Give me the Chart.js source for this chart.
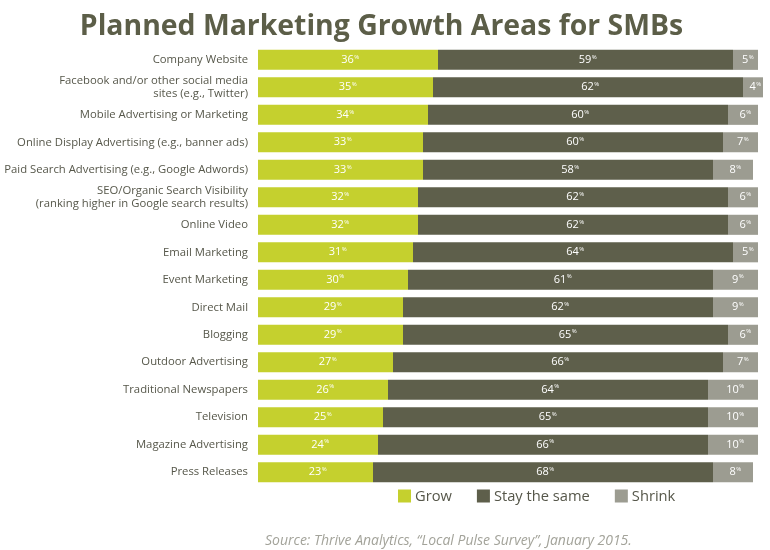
<!DOCTYPE html>
<html>
<head>
<meta charset="utf-8">
<script src="https://cdn.jsdelivr.net/npm/chart.js@4"></script>
<style>
  html, body { margin: 0; padding: 0; background: #fff; }
  #wrap { width: 770px; height: 550px; position: relative; }
</style>
</head>
<body>
<div id="wrap"><canvas id="chart"></canvas></div>
<script>
const categories = [
  'Company Website',
  ['Facebook and/or other social media', 'sites (e.g., Twitter)'],
  'Mobile Advertising or Marketing',
  'Online Display Advertising (e.g., banner ads)',
  'Paid Search Advertising (e.g., Google Adwords)',
  ['SEO/Organic Search Visibility', '(ranking higher in Google search results)'],
  'Online Video',
  'Email Marketing',
  'Event Marketing',
  'Direct Mail',
  'Blogging',
  'Outdoor Advertising',
  'Traditional Newspapers',
  'Television',
  'Magazine Advertising',
  'Press Releases'
];

const grow   = [36, 35, 34, 33, 33, 32, 32, 31, 30, 29, 29, 27, 26, 25, 24, 23];
const same   = [59, 62, 60, 60, 58, 62, 62, 64, 61, 62, 65, 66, 64, 65, 66, 68];
const shrink = [5, 4, 6, 7, 8, 6, 6, 5, 9, 9, 6, 7, 10, 10, 10, 8];

const seriesNames = ['Grow', 'Stay the same', 'Shrink'];
const sourceNote = 'Source: Thrive Analytics, \u201cLocal Pulse Survey\u201d, January 2015.';

const textColor = '#56574a';

// white value labels with a small raised % sign
const barLabels = {
  id: 'barLabels',
  afterDatasetsDraw(chart) {
    const ctx = chart.ctx;
    ctx.save();
    ctx.fillStyle = '#ffffff';
    ctx.textBaseline = 'middle';
    chart.data.datasets.forEach((ds, i) => {
      const meta = chart.getDatasetMeta(i);
      meta.data.forEach((bar, j) => {
        const num = String(ds.data[j]);
        ctx.font = '11px "Open Sans"';
        const w1 = ctx.measureText(num).width;
        ctx.font = '6px "Open Sans"';
        const w2 = ctx.measureText('%').width;
        const cx = (bar.x + bar.base) / 2;
        const x0 = cx - (w1 + w2) / 2 + 2;
        ctx.textAlign = 'left';
        ctx.font = '11px "Open Sans"';
        ctx.fillText(num, x0, bar.y);
        ctx.font = '6px "Open Sans"';
        ctx.fillText('%', x0 + w1 + 0.5, bar.y - 3);
      });
    });
    ctx.restore();
  }
};

// legend row under the bars, plus the source line
const bottomTexts = {
  id: 'bottomTexts',
  afterDraw(chart) {
    const ctx = chart.ctx;
    const y = chart.chartArea.bottom + 10;
    ctx.save();
    ctx.font = '14.7px "Open Sans"';
    ctx.textBaseline = 'middle';
    ctx.textAlign = 'left';
    let x = 398;
    chart.data.datasets.forEach(ds => {
      ctx.fillStyle = ds.backgroundColor;
      ctx.fillRect(x, y - 6.5, 13, 13);
      ctx.fillStyle = textColor;
      ctx.fillText(ds.label, x + 17, y + 1);
      x += 17 + ctx.measureText(ds.label).width + 25;
    });

    ctx.font = 'italic 14px "Open Sans"';
    ctx.fillStyle = '#a3a39a';
    ctx.textBaseline = 'alphabetic';
    ctx.fillText(sourceNote, 265, 545);
    ctx.restore();
  }
};

new Chart(document.getElementById('chart'), {
  type: 'bar',
  data: {
    labels: categories,
    datasets: [
      { label: seriesNames[0], data: grow, backgroundColor: '#c5d02e' },
      { label: seriesNames[1], data: same, backgroundColor: '#5e5f4b' },
      { label: seriesNames[2], data: shrink, backgroundColor: '#9c9c91' }
    ]
  },
  options: {
    indexAxis: 'y',
    responsive: true,
    maintainAspectRatio: false,
    animation: false,
    devicePixelRatio: 1,
    layout: { padding: { left: 0, right: 7, top: 0, bottom: 64 } },
    datasets: {
      bar: { barPercentage: 0.73, categoryPercentage: 1, borderWidth: 0 }
    },
    scales: {
      x: {
        stacked: true,
        display: false,
        min: 0,
        max: 101
      },
      y: {
        stacked: true,
        grid: { display: false, drawTicks: false },
        border: { display: false },
        afterFit(scale) { scale.width = 258; },
        ticks: {
          autoSkip: false,
          padding: 10,
          color: textColor,
          font: { family: '"Open Sans"', size: 11.3, lineHeight: 1.12 }
        }
      }
    },
    plugins: {
      title: {
        display: true,
        text: 'Planned Marketing Growth Areas for SMBs',
        color: '#5c5e48',
        font: { family: '"Open Sans"', size: 28.4, weight: 'bold', lineHeight: 1.2 },
        padding: { top: 10, bottom: 2 }
      },
      legend: { display: false },
      tooltip: { enabled: false }
    }
  },
  plugins: [barLabels, bottomTexts]
});
</script>
</body>
</html>
